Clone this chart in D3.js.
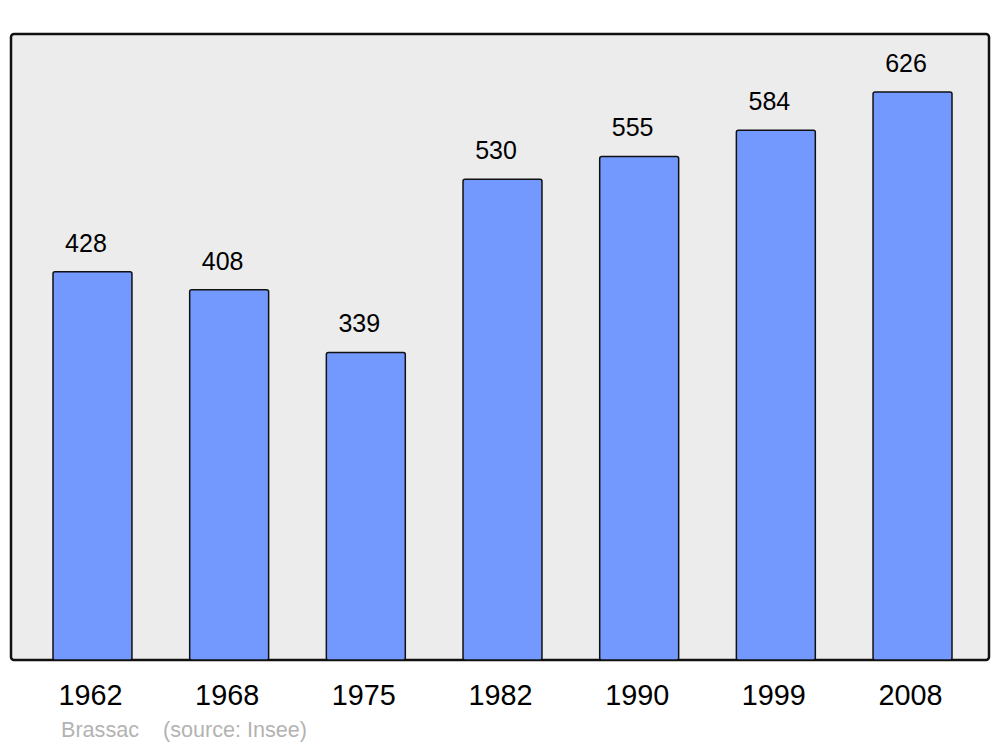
<!DOCTYPE html>
<html><head><meta charset="utf-8">
<script src="https://cdn.jsdelivr.net/npm/d3@7"></script>
<style>body{margin:0;background:#fff}svg{display:block;font-family:"Liberation Sans",Arial,sans-serif}</style>
</head><body>
<script>
const years = ["1962","1968","1975","1982","1990","1999","2008"];
const population = [428,408,339,530,555,584,626];
const place = "Brassac";
const source = "(source: Insee)";

const W=1000,H=747;
const svg=d3.select("body").append("svg").attr("width",W).attr("height",H);
const panel={x0:11,x1:989,y0:34,y1:660};
svg.append("rect").attr("x",panel.x0).attr("y",panel.y0).attr("width",panel.x1-panel.x0).attr("height",panel.y1-panel.y0)
  .attr("rx",3).attr("fill","#ececec").attr("stroke","#111").attr("stroke-width",2.5);

const x=d3.scaleBand().domain(years).range([53,952]).paddingInner(0.4223).paddingOuter(0);
const y=d3.scaleLinear().domain([0,690]).range([panel.y1,panel.y0]);

const g=svg.append("g");
g.selectAll("rect.bar").data(years).join("rect").attr("class","bar")
 .attr("x",d=>x(d)).attr("width",x.bandwidth())
 .attr("y",(d,i)=>y(population[i])).attr("height",(d,i)=>y(0)-y(population[i]))
 .attr("rx",2).attr("fill","#7399ff").attr("stroke","#111").attr("stroke-width",1.5);

g.selectAll("text.val").data(years).join("text").attr("class","val")
 .attr("x",d=>x(d)+x.bandwidth()/2-6.5).attr("y",(d,i)=>y(population[i])-20)
 .attr("text-anchor","middle").attr("font-size",25).attr("fill","#000")
 .text((d,i)=>population[i]);

const ax=svg.append("g").attr("transform",`translate(-2,${panel.y1})`)
 .call(d3.axisBottom(x).tickSize(0).tickPadding(0));
ax.select(".domain").remove();
ax.selectAll("text").attr("font-size",28.8).attr("font-family","Liberation Sans, Arial, sans-serif")
 .attr("fill","#000").attr("dy",0).attr("y",45);

svg.append("text").attr("x",61).attr("y",737).attr("font-size",21.6).attr("fill","#b3b3b3").text(place);
svg.append("text").attr("x",163).attr("y",737).attr("font-size",21.6).attr("fill","#b3b3b3").text(source);
</script>
</body></html>
